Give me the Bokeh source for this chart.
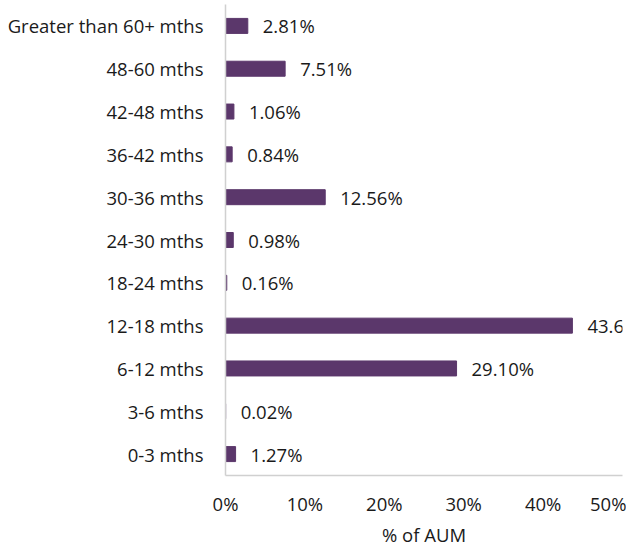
from bokeh.plotting import figure
from bokeh.models import ColumnDataSource, LabelSet, FixedTicker, Range1d, CustomJSTickFormatter
from bokeh.core.properties import value
from bokeh.embed import file_html
from bokeh.resources import INLINE

categories = ["0-3 mths", "3-6 mths", "6-12 mths", "12-18 mths", "18-24 mths",
              "24-30 mths", "30-36 mths", "36-42 mths", "42-48 mths",
              "48-60 mths", "Greater than 60+ mths"]
values = [1.27, 0.02, 29.10, 43.69, 0.16, 0.98, 12.56, 0.84, 1.06, 7.51, 2.81]
x_ticks = [0, 10, 20, 30, 40, 50]

labels = ["{:.2f}%".format(v) for v in values]
source = ColumnDataSource(dict(cat=categories, val=values, lab=labels))

FONT = "Open Sans"
FS = "18.5px"
TXT = "#1a1a1a"
p = figure(y_range=categories, x_range=Range1d(0, 50), frame_width=397, frame_height=471,
           output_backend="svg", toolbar_location=None,
           min_border_left=0, min_border_top=4, min_border_right=4, min_border_bottom=0)
p.margin = (0, 0, 0, 4)

p.hbar(y="cat", right="val", height=0.35, source=source, color="#5B376B")

ls = LabelSet(x="val", y="cat", text="lab", source=source, x_offset=15, y_offset=0,
              text_font=value(FONT), text_font_size=value(FS), text_color=TXT,
              text_baseline="middle")
p.add_layout(ls)

p.outline_line_color = None
p.grid.visible = False

p.xaxis.ticker = FixedTicker(ticks=x_ticks)
p.xaxis.formatter = CustomJSTickFormatter(code="return tick + '%';")
p.xaxis.axis_label = "% of AUM"
p.xaxis.axis_label_text_font = FONT
p.xaxis.axis_label_text_font_size = FS
p.xaxis.axis_label_text_font_style = "normal"
p.xaxis.axis_label_text_color = TXT
p.xaxis.axis_label_standoff = 3

for ax in (p.xaxis, p.yaxis):
    ax.major_label_text_font = FONT
    ax.major_label_text_font_size = FS
    ax.major_label_text_color = TXT
    ax.major_tick_line_color = None
    ax.minor_tick_line_color = None
    ax.axis_line_color = "#d0d0d0"
    ax.axis_line_width = 1.5

p.xaxis.major_label_standoff = 9
p.yaxis.major_label_standoff = 16

open("out.html", "w").write(file_html(p, INLINE))
